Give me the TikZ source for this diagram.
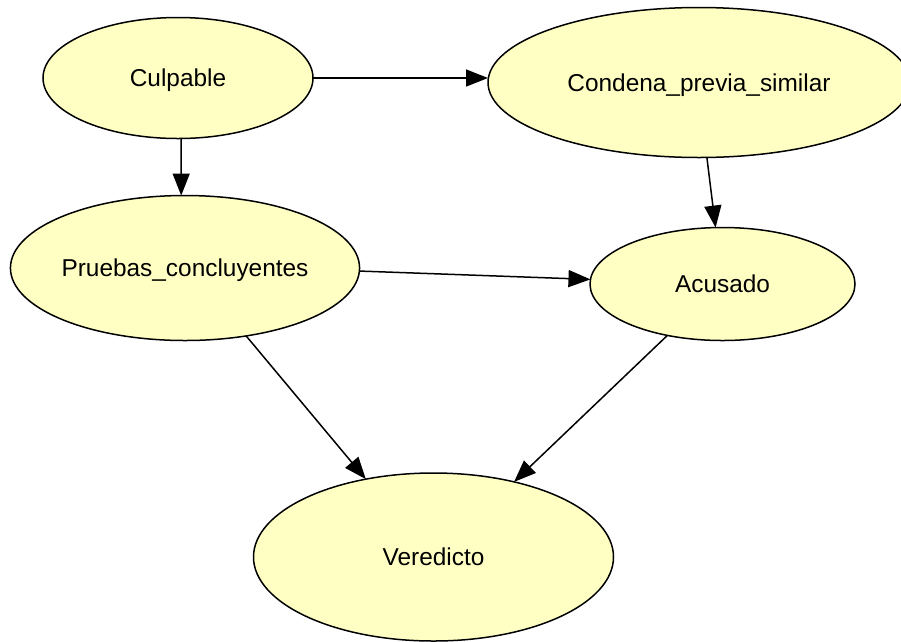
\documentclass[tikz,border=0pt]{standalone}
\usepackage{fontspec}
\setmainfont{Liberation Sans}
\usepackage{tikz}
\usetikzlibrary{shapes.geometric,arrows.meta}
\definecolor{nodefill}{RGB}{255,255,196}

\begin{document}
\begin{tikzpicture}[
			x=1pt,y=-1pt,
			line width=1.5pt,
			var/.style={ellipse,draw,fill=nodefill,inner sep=0pt,outer sep=0pt,
				text height=17.5pt,text depth=0pt,
				font=\fontsize{24.4}{29}\selectfont},
			link/.style={-{Triangle[length=22pt,width=17pt]}}
			]

				\useasboundingbox (0,0) rectangle (901,641);

				\node[var,minimum width=270pt,minimum height=121pt] (culpable) at (178,78) {Culpable};
				\node[var,minimum width=422pt,minimum height=150pt] (condena) at (699,82.5) {Condena\_previa\_similar};
				\node[var,minimum width=348pt,minimum height=145pt] (pruebas) at (185,268) {Pruebas\_concluyentes};
				\node[var,minimum width=265pt,minimum height=113pt] (acusado) at (722.5,284) {Acusado};
				\node[var,minimum width=360pt,minimum height=168pt] (veredicto) at (433.5,557) {Veredicto};

				\draw[link] (culpable.east) -- (culpable.east -| condena.west);
				\draw[link] (culpable.-87.4) -- (pruebas.93.4);
				\draw[link] (condena.-84.2) -- (acusado.97.6);
				\draw[link] (pruebas.-1) -- (acusado.178.1);
				\draw[link] (pruebas.-48.4) -- (veredicto.131.5);
				\draw[link] (acusado.-137.9) -- (veredicto.43.5);

			\end{tikzpicture}
\end{document}
